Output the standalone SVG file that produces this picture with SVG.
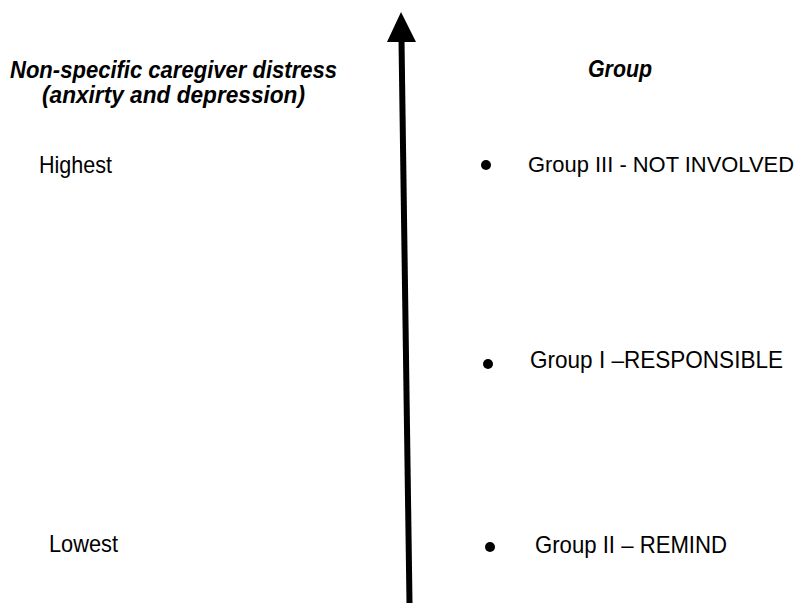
<svg xmlns="http://www.w3.org/2000/svg" width="805" height="603" viewBox="0 0 805 603">
  <style>
    text { font-family: "Liberation Sans", Arial, sans-serif; fill: #000; }
    .head { font-size: 23px; font-weight: bold; font-style: italic; }
    .lab { font-size: 24px; }
    .lab-wide { font-size: 22px; }
    .dot { fill: #000; }
  </style>
  <rect width="805" height="603" fill="#fff"/>

  <!-- vertical axis with arrowhead at the top -->
  <g id="axis">
    <line x1="409.5" y1="603" x2="401.5" y2="40" stroke="#000" stroke-width="6"/>
    <polygon points="401,12 387,42 416,42" fill="#000"/>
  </g>

  <g id="distress-heading">
    <text class="head" x="10" y="78" textLength="327" lengthAdjust="spacingAndGlyphs">Non-specific caregiver distress</text>
    <text class="head" x="42" y="103" textLength="263" lengthAdjust="spacingAndGlyphs">(anxirty and depression)</text>
  </g>

  <g id="group-heading">
    <text class="head" x="588" y="77" textLength="64" lengthAdjust="spacingAndGlyphs">Group</text>
  </g>

  <g id="highest">
    <text class="lab" x="39" y="173" textLength="73" lengthAdjust="spacingAndGlyphs">Highest</text>
  </g>

  <g id="lowest">
    <text class="lab" x="49" y="552" textLength="69" lengthAdjust="spacingAndGlyphs">Lowest</text>
  </g>

  <g id="group-3">
    <circle class="dot" cx="486" cy="165" r="5"/>
    <text class="lab-wide" x="528" y="172" textLength="266" lengthAdjust="spacingAndGlyphs">Group III - NOT INVOLVED</text>
  </g>

  <g id="group-1">
    <circle class="dot" cx="488" cy="364" r="5"/>
    <text class="lab" x="530" y="368" textLength="253" lengthAdjust="spacingAndGlyphs">Group I –RESPONSIBLE</text>
  </g>

  <g id="group-2">
    <circle class="dot" cx="490" cy="547" r="5"/>
    <text class="lab" x="535" y="553" textLength="192" lengthAdjust="spacingAndGlyphs">Group II – REMIND</text>
  </g>
</svg>
